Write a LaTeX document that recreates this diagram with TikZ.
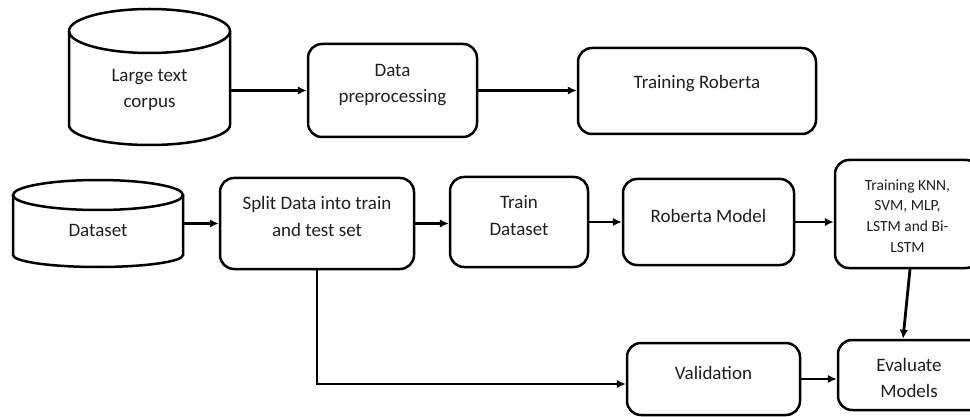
\documentclass[tikz,border=0pt]{standalone}
\usepackage{fontspec}
\setmainfont{Carlito}
\usetikzlibrary{arrows.meta}
\begin{document}
\begin{tikzpicture}[x=1pt,y=-1pt,
  box/.style={draw, line width=2.5pt, rounded corners=14pt, rectangle, inner sep=0pt},
  hold/.style={rectangle, inner sep=0pt},
  cyl/.style={draw, line width=2.5pt},
  txt/.style={align=center, inner sep=0pt, font=\fontsize{19}{26.5}\selectfont, text=black!88},
  smalltxt/.style={align=center, inner sep=0pt, font=\fontsize{15.5}{20.8}\selectfont, text=black!88},
  arr/.style={line width=2.8pt, -{Latex[length=9pt,width=8.5pt]}}]
\useasboundingbox (0,0) rectangle (970,417);

% cylinder: Large text corpus
\draw[cyl] (69,31) -- (69,125) arc[start angle=180,end angle=360,x radius=80.5pt,y radius=20pt] -- (230,31);
\draw[cyl] (149.5,31) ellipse [x radius=80.5pt, y radius=22pt];
\node[hold, minimum width=161pt, minimum height=137pt] (corpus) at (149.5,76.5) {};
\node[txt] (corpusT) at (149.5,90) {Large text\\corpus};

% cylinder: Dataset
\draw[cyl] (13,195) -- (13,255) arc[start angle=180,end angle=360,x radius=85pt,y radius=12pt] -- (183,195);
\draw[cyl] (98,195) ellipse [x radius=85pt, y radius=15pt];
\node[hold, minimum width=170pt, minimum height=87pt] (dataset) at (98,223.5) {};
\node[txt] (datasetT) at (98,230) {Dataset};

% boxes
\node[box, minimum width=169pt, minimum height=93pt] (dp) at (392.5,90.5) {};
\node[txt] (dpT) at (392.5,85) {Data\\preprocessing};

\node[box, minimum width=238pt, minimum height=86pt] (tr) at (697,91) {};
\node[txt] (trT) at (697,84) {Training Roberta};

\node[box, minimum width=194pt, minimum height=91pt] (split) at (317,223.5) {};
\node[txt] (splitT) at (317,216.5) {Split Data into train\\and test set};

\node[box, minimum width=138pt, minimum height=90pt] (train) at (519,222) {};
\node[txt] (trainT) at (519,215.5) {Train\\Dataset};

\node[box, minimum width=171pt, minimum height=86pt] (rob) at (708.5,222) {};
\node[txt] (robT) at (708.5,216) {Roberta Model};

\node[box, minimum width=145pt, minimum height=108pt] (knn) at (907.5,214) {};
\node[smalltxt] (knnT) at (907.5,216) {Training KNN,\\SVM, MLP,\\LSTM and Bi-\\LSTM};

\node[box, minimum width=173pt, minimum height=72pt] (val) at (713.5,379) {};
\node[txt] (valT) at (713.5,373) {Validation};

\node[box, minimum width=150pt, minimum height=70pt] (eval) at (913,375) {};
\node[txt] (evalT) at (909,378) {Evaluate\\Models};

% connectors
\draw[arr] (corpus.east |- dp.west) -- (dp.west);
\draw[arr] (dp.east) -- (dp.east -| tr.west);
\draw[arr] (dataset.east |- split.west) -- (split.west);
\draw[arr] (split.east) -- (split.east -| train.west);
\draw[arr] (train.east) -- (train.east -| rob.west);
\draw[arr] (rob.east) -- (rob.east -| knn.west);
\draw[arr] (knn.south -| 910,0) -- (eval.north -| 903,0);
\draw[arr] (split.south) |- ([yshift=-5pt]val.west);
\draw[arr] (val.east) -- (val.east -| eval.west);
\end{tikzpicture}
\end{document}
